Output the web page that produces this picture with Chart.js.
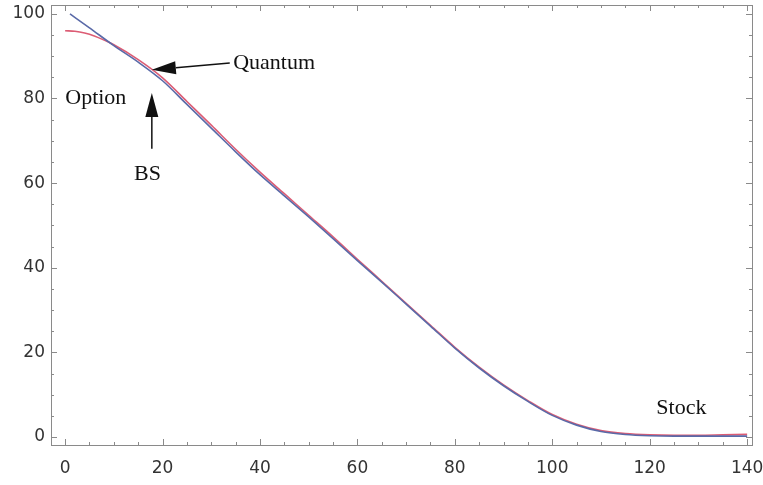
<!DOCTYPE html>
<html>
<head>
<meta charset="utf-8">
<script src="https://cdn.jsdelivr.net/npm/chart.js@4.4.1/dist/chart.umd.min.js"></script>
<style>
  html, body { margin: 0; padding: 0; background: #fff; }
  #chart { display: block; }
</style>
</head>
<body>
<canvas id="chart" width="763" height="485"></canvas>
<script>
// Black-Scholes curve (blue)
const bsStock = [1, 5, 10, 15, 20, 25, 30, 35, 40, 45, 50, 55, 60, 65, 70, 75, 80, 85, 90, 95, 100, 105, 110, 115, 120, 125, 130, 135, 140]
const bsOption = [100, 96.7, 92.5, 88.6, 84.2, 78.6, 73.0, 67.4, 62.0, 57.0, 52.0, 46.9, 41.7, 36.6, 31.4, 26.2, 21.0, 16.3, 12.1, 8.4, 5.1, 2.8, 1.3, 0.6, 0.3, 0.2, 0.2, 0.2, 0.2]

// Quantum curve (red)
const qStock = [0, 2, 4, 6, 8, 10, 15, 20, 25, 30, 35, 40, 45, 50, 55, 60, 65, 70, 75, 80, 85, 90, 95, 100, 105, 110, 115, 120, 125, 130, 135, 140]
const qOption = [96.0, 95.9, 95.5, 94.8, 93.8, 92.7, 89.2, 84.9, 79.3, 73.7, 68.0, 62.6, 57.5, 52.4, 47.3, 42.0, 36.8, 31.6, 26.4, 21.2, 16.5, 12.3, 8.6, 5.3, 3.0, 1.5, 0.8, 0.5, 0.4, 0.4, 0.5, 0.6]

const xTicks = [0, 20, 40, 60, 80, 100, 120, 140]
const yTicks = [0, 20, 40, 60, 80, 100]

// text labels and arrows, in data units
const labels = [
  { text: 'Quantum', x: 42.9, y: 88.3 },
  { text: 'Option', x: 6.3, y: 80.1 },
  { text: 'BS', x: 16.9, y: 62.2 },
  { text: 'Stock', x: 126.5, y: 6.9 }
]
const arrows = [
  { from: [33.8, 88.4], to: [17.8, 86.8] },
  { from: [17.8, 68.1], to: [17.8, 81.3] }
]

function toPoints(xs, ys) {
  return xs.map((x, i) => ({ x: x, y: ys[i] }))
}

// keep chart area fixed, ignore label overflow
function noPadding(scale) {
  scale.paddingLeft = 0
  scale.paddingRight = 0
  scale.paddingTop = 0
  scale.paddingBottom = 0
}

// Mathematica style frame with inward ticks
const framePlugin = {
  id: 'frame',
  afterDatasetsDraw(chart) {
    const ctx = chart.ctx
    const area = chart.chartArea
    const xs = chart.scales.x
    const ys = chart.scales.y
    ctx.save()
    ctx.strokeStyle = '#8a8a8a'
    ctx.lineWidth = 1
    ctx.strokeRect(area.left + 0.5, area.top + 0.5, area.right - area.left, area.bottom - area.top)
    ctx.beginPath()
    for (let v = 0; v <= 140; v += 5) {
      const px = Math.round(xs.getPixelForValue(v)) + 0.5
      const len = v % 20 === 0 ? 6 : 3
      ctx.moveTo(px, area.bottom)
      ctx.lineTo(px, area.bottom - len)
      ctx.moveTo(px, area.top)
      ctx.lineTo(px, area.top + len)
    }
    for (let v = 0; v <= 100; v += 5) {
      const py = Math.round(ys.getPixelForValue(v)) + 0.5
      const len = v % 20 === 0 ? 6 : 3
      ctx.moveTo(area.left, py)
      ctx.lineTo(area.left + len, py)
      ctx.moveTo(area.right, py)
      ctx.lineTo(area.right - len, py)
    }
    ctx.stroke()
    ctx.restore()
  }
}

const notePlugin = {
  id: 'notes',
  afterDraw(chart) {
    const ctx = chart.ctx
    const xs = chart.scales.x
    const ys = chart.scales.y
    ctx.save()
    ctx.fillStyle = '#111'
    ctx.font = '22px "Liberation Serif", serif'
    ctx.textAlign = 'center'
    ctx.textBaseline = 'middle'
    for (const l of labels) {
      ctx.fillText(l.text, xs.getPixelForValue(l.x), ys.getPixelForValue(l.y))
    }
    ctx.strokeStyle = '#111'
    ctx.lineWidth = 1.5
    for (const a of arrows) {
      const x1 = xs.getPixelForValue(a.from[0])
      const y1 = ys.getPixelForValue(a.from[1])
      const x2 = xs.getPixelForValue(a.to[0])
      const y2 = ys.getPixelForValue(a.to[1])
      const ang = Math.atan2(y2 - y1, x2 - x1)
      const headLen = 24
      const headW = 6.5
      const bx = x2 - headLen * Math.cos(ang)
      const by = y2 - headLen * Math.sin(ang)
      ctx.beginPath()
      ctx.moveTo(x1, y1)
      ctx.lineTo(bx, by)
      ctx.stroke()
      ctx.beginPath()
      ctx.moveTo(x2, y2)
      ctx.lineTo(bx + headW * Math.sin(ang), by - headW * Math.cos(ang))
      ctx.lineTo(bx - headW * Math.sin(ang), by + headW * Math.cos(ang))
      ctx.closePath()
      ctx.fill()
    }
    ctx.restore()
  }
}

const config = {
  type: 'scatter',
  data: {
    datasets: [
      {
        label: 'BS',
        data: toPoints(bsStock, bsOption),
        showLine: true,
        borderColor: '#5a6aa8',
        borderWidth: 1.6,
        pointRadius: 0,
        cubicInterpolationMode: 'monotone'
      },
      {
        label: 'Quantum',
        data: toPoints(qStock, qOption),
        showLine: true,
        borderColor: 'rgba(214, 64, 92, 0.85)',
        borderWidth: 1.6,
        pointRadius: 0,
        cubicInterpolationMode: 'monotone'
      }
    ]
  },
  options: {
    responsive: false,
    animation: false,
    layout: { padding: { top: 5, right: 11, left: 0, bottom: 0 } },
    plugins: {
      legend: { display: false },
      tooltip: { enabled: false }
    },
    scales: {
      x: {
        type: 'linear',
        min: -2.9,
        max: 141,
        grid: { display: false, drawTicks: false },
        border: { display: false },
        afterBuildTicks: scale => { scale.ticks = xTicks.map(v => ({ value: v })) },
        afterFit: scale => {
          scale.height = 40
          noPadding(scale)
        },
        ticks: {
          padding: 13,
          maxRotation: 0,
          color: '#333',
          font: { family: 'DejaVu Sans', size: 17 }
        }
      },
      y: {
        type: 'linear',
        min: -1.9,
        max: 102.1,
        grid: { display: false, drawTicks: false },
        border: { display: false },
        afterBuildTicks: scale => { scale.ticks = yTicks.map(v => ({ value: v })) },
        afterFit: scale => {
          scale.width = 51
          noPadding(scale)
        },
        ticks: {
          padding: 6,
          color: '#333',
          font: { family: 'DejaVu Sans', size: 17 }
        }
      }
    }
  },
  plugins: [framePlugin, notePlugin]
}

new Chart(document.getElementById('chart').getContext('2d'), config)
</script>
</body>
</html>
